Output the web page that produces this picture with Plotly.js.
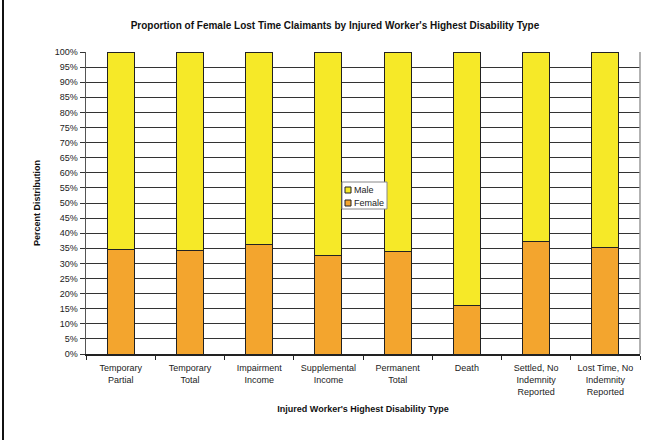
<!DOCTYPE html>
<html>
<head>
<meta charset="utf-8">
<script src="https://cdn.plot.ly/plotly-3.0.1.min.js"></script>
<style>
  html, body { margin: 0; padding: 0; background: #fff; }
  #chart { width: 649px; height: 440px; position: relative; }
  #frame { position: absolute; left: 2px; top: 0; width: 0; height: 440px; border-left: 2px solid #111; pointer-events: none; }
</style>
</head>
<body>
<div id="chart"></div>
<div id="frame"></div>
<script>
const categories = [
  "Temporary<br>Partial",
  "Temporary<br>Total",
  "Impairment<br>Income",
  "Supplemental<br>Income",
  "Permanent<br>Total",
  "Death",
  "Settled, No<br>Indemnity<br>Reported",
  "Lost Time, No<br>Indemnity<br>Reported"
];
const female = [34.5, 34.2, 36.3, 32.6, 33.9, 16.1, 37.2, 35.2];
const male   = [65.5, 65.8, 63.7, 67.4, 66.1, 83.9, 62.8, 64.8];
const seriesNames = ["Female", "Male"];
const seriesColors = ["#F3A52E", "#F6E928"];

const W = 649, H = 440;
const M = { l: 86, r: 9, t: 52, b: 86 };
const PW = W - M.l - M.r, PH = H - M.t - M.b;
const px = x => (x - M.l) / PW;
const py = y => (H - M.b - y) / PH;
const FONT = "Liberation Sans, Arial, sans-serif";

const traces = [
  { type: "bar", name: seriesNames[0], x: categories, y: female,
    marker: { color: seriesColors[0], line: { color: "#222", width: 1 } },
    showlegend: false, hoverinfo: "skip" },
  { type: "bar", name: seriesNames[1], x: categories, y: male,
    marker: { color: seriesColors[1], line: { color: "#222", width: 1 } },
    showlegend: false, hoverinfo: "skip" }
];

// custom legend (box, swatches, labels)
const box = { x0: 342, x1: 387, y0: 182, y1: 209 };
const items = [
  { name: seriesNames[1], color: seriesColors[1], cy: 190 },
  { name: seriesNames[0], color: seriesColors[0], cy: 203 }
];
const shapes = [
  { type: "line", xref: "x domain", yref: "y domain", x0: 1, x1: 1, y0: 0, y1: 1,
    line: { color: "#999", width: 1.5 } },
  { type: "rect", xref: "paper", yref: "paper",
    x0: px(box.x0), x1: px(box.x1), y0: py(box.y1), y1: py(box.y0),
    fillcolor: "#fff", line: { color: "#888", width: 1 }, layer: "above" }
];
const annotations = [];
items.forEach(it => {
  shapes.push({ type: "rect", xref: "paper", yref: "paper",
    x0: px(345), x1: px(351), y0: py(it.cy + 3), y1: py(it.cy - 3),
    fillcolor: it.color, line: { color: "#222", width: 1 }, layer: "above" });
  annotations.push({ xref: "paper", yref: "paper", x: px(352), y: py(it.cy),
    xanchor: "left", yanchor: "middle", showarrow: false, text: it.name,
    font: { family: FONT, size: 9, color: "#222" } });
});

const layout = {
  width: W, height: H,
  margin: M,
  paper_bgcolor: "#fff", plot_bgcolor: "#fff",
  barmode: "stack", bargap: 0.61,
  font: { family: FONT, size: 9, color: "#222" },
  title: {
    text: "Proportion of Female Lost Time Claimants by Injured Worker's Highest Disability Type",
    font: { family: FONT, size: 10, color: "#111", weight: "bold" },
    xref: "container", x: 335 / W, xanchor: "center",
    yref: "container", y: 1 - 25 / H, yanchor: "middle"
  },
  xaxis: {
    type: "category",
    showgrid: false, zeroline: false,
    showline: true, linecolor: "#222", linewidth: 1.5,
    ticks: "outside", tickson: "boundaries", ticklen: 4, tickcolor: "#222", tickwidth: 1,
    ticklabelstandoff: 5,
    tickfont: { family: FONT, size: 9, color: "#222" },
    tickangle: 0,
    title: { text: "Injured Worker's Highest Disability Type",
      font: { family: FONT, size: 9, color: "#111", weight: "bold" }, standoff: 10 }
  },
  yaxis: {
    range: [0, 100], dtick: 5, ticksuffix: "%",
    showgrid: true, gridcolor: "#333", gridwidth: 1,
    zeroline: false,
    showline: true, linecolor: "#555", linewidth: 1.5,
    ticks: "outside", ticklen: 5, tickcolor: "#333", tickwidth: 1,
    tickfont: { family: FONT, size: 9, color: "#222" },
    title: { text: "Percent Distribution",
      font: { family: FONT, size: 9, color: "#111", weight: "bold" }, standoff: 12 }
  },
  shapes: shapes,
  annotations: annotations,
  showlegend: false
};

Plotly.newPlot("chart", traces, layout, { displayModeBar: false, staticPlot: true });
</script>
</body>
</html>
